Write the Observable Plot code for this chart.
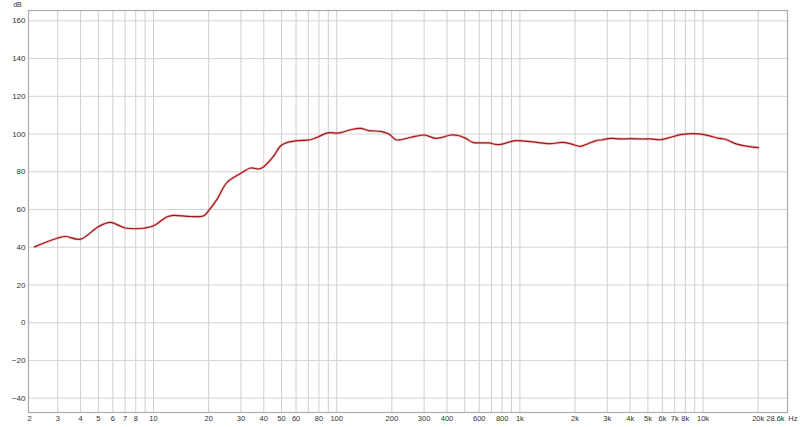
<!DOCTYPE html>
<html>
<head>
<meta charset="utf-8">
<script src="https://cdn.jsdelivr.net/npm/d3@7"></script>
<script src="https://cdn.jsdelivr.net/npm/@observablehq/plot@0.6"></script>
<style>
  html, body { margin: 0; padding: 0; background: #fff; }
  #chart svg { display: block; }
</style>
</head>
<body>
<div id="chart"></div>
<script>
// Frequency response (Hz) and level (dB)
const freqHz = [2.24, 3.0, 3.3, 4.0, 5.0, 5.8, 7.0, 8.0, 9.0, 10.0, 11.9, 12.9, 15.9, 18.8, 20, 22.3, 25.2, 30, 33.9, 37.6, 40, 45, 49.5, 53.8, 61, 72, 78.4, 89, 103, 119, 135, 150, 174, 193, 210, 224, 254, 300, 319, 347, 378, 420, 466, 507, 552, 613, 680, 740, 787, 893, 951, 1056, 1148, 1303, 1476, 1709, 1900, 2136, 2344, 2603, 2830, 3142, 3562, 4043, 4586, 5200, 5890, 6675, 7570, 8950, 10150, 11050, 12270, 13070, 15140, 17540, 20050];
const levelDb = [40.2, 44.9, 45.7, 44.3, 50.9, 53.2, 50.2, 49.8, 50.2, 51.4, 56.2, 56.9, 56.3, 56.7, 59.4, 65.6, 74.4, 79.2, 82.0, 81.5, 82.7, 88.0, 93.8, 95.6, 96.5, 97.0, 98.3, 100.6, 100.6, 102.3, 103.0, 101.8, 101.4, 100.0, 97.0, 97.0, 98.3, 99.5, 98.8, 97.7, 98.3, 99.5, 99.1, 97.7, 95.6, 95.3, 95.3, 94.5, 94.5, 96.0, 96.5, 96.3, 96.0, 95.3, 94.9, 95.6, 94.8, 93.5, 94.8, 96.5, 97.0, 97.7, 97.4, 97.6, 97.4, 97.4, 97.0, 98.3, 99.7, 100.2, 99.7, 98.8, 97.7, 97.4, 94.8, 93.5, 92.8];

// Axis ticks
const xTickValues = [3, 4, 5, 6, 7, 8, 10, 20, 30, 40, 50, 60, 80, 100, 200, 300, 400, 600, 800, 1000, 2000, 3000, 4000, 5000, 6000, 7000, 8000, 10000, 20000];
const xTickLabels = ["3", "4", "5", "6", "7", "8", "10", "20", "30", "40", "50", "60", "80", "100", "200", "300", "400", "600", "800", "1k", "2k", "3k", "4k", "5k", "6k", "7k", "8k", "10k", "20k"];
const xEdgeValues = [2.078, 28900];
const xEdgeLabels = ["2", "28.6k\u2002Hz"];
const xGridValues = [3, 4, 5, 6, 7, 8, 9, 10, 20, 30, 40, 50, 60, 70, 80, 90, 100, 200, 300, 400, 500, 600, 700, 800, 900, 1000, 2000, 3000, 4000, 5000, 6000, 7000, 8000, 9000, 10000, 20000];
const yTickValues = [-40, -20, 0, 20, 40, 60, 80, 100, 120, 140, 160];
const yUnit = ["dB"];

const data = freqHz.map((f, i) => ({f, db: levelDb[i]}));
const xTicks = xTickValues.map((v, i) => ({v, label: xTickLabels[i]}));
const firstEdge = [{v: xEdgeValues[0], label: xEdgeLabels[0]}];
const lastEdge = [{v: xEdgeValues[1], label: xEdgeLabels[1]}];

const plot = Plot.plot({
  width: 800,
  height: 427,
  marginTop: 10,
  marginLeft: 28,
  marginRight: 13,
  marginBottom: 15,
  style: {fontFamily: "'Liberation Sans', Arial, sans-serif", fontSize: "7.5px", color: "#333", background: "#fff"},
  x: {type: "log", domain: xEdgeValues, axis: null},
  y: {domain: [-47.6, 165.5]},
  marks: [
    Plot.gridX(xGridValues, {stroke: "#cfcfcf", strokeOpacity: 1}),
    Plot.gridY(yTickValues, {stroke: "#d4d4d4", strokeOpacity: 1}),
    Plot.frame({stroke: "#ababab", strokeWidth: 1.2}),
    Plot.axisY(yTickValues, {tickSize: 0, tickPadding: 3, label: null, fill: "#333", fontSize: 8}),
    Plot.text(xTicks, {x: "v", text: "label", frameAnchor: "bottom", lineAnchor: "top", dy: 3, textAnchor: "middle", fill: "#333"}),
    Plot.text(firstEdge, {x: "v", text: "label", frameAnchor: "bottom", lineAnchor: "top", dy: 3, dx: 1, textAnchor: "middle", fill: "#333"}),
    Plot.text(lastEdge, {x: "v", text: "label", frameAnchor: "bottom", lineAnchor: "top", dy: 3, dx: 10, textAnchor: "end", fill: "#333"}),
    Plot.text(yUnit, {frameAnchor: "top-left", dx: -11, dy: -6, lineAnchor: "middle", textAnchor: "middle", fill: "#333", fontSize: 7}),
    Plot.line(data, {x: "f", y: "db", curve: "catmull-rom", stroke: "#e87070", strokeWidth: 2.6, strokeOpacity: 0.45}),
    Plot.line(data, {x: "f", y: "db", curve: "catmull-rom", stroke: "#a01818", strokeWidth: 1.2})
  ]
});
document.getElementById("chart").appendChild(plot);
</script>
</body>
</html>
